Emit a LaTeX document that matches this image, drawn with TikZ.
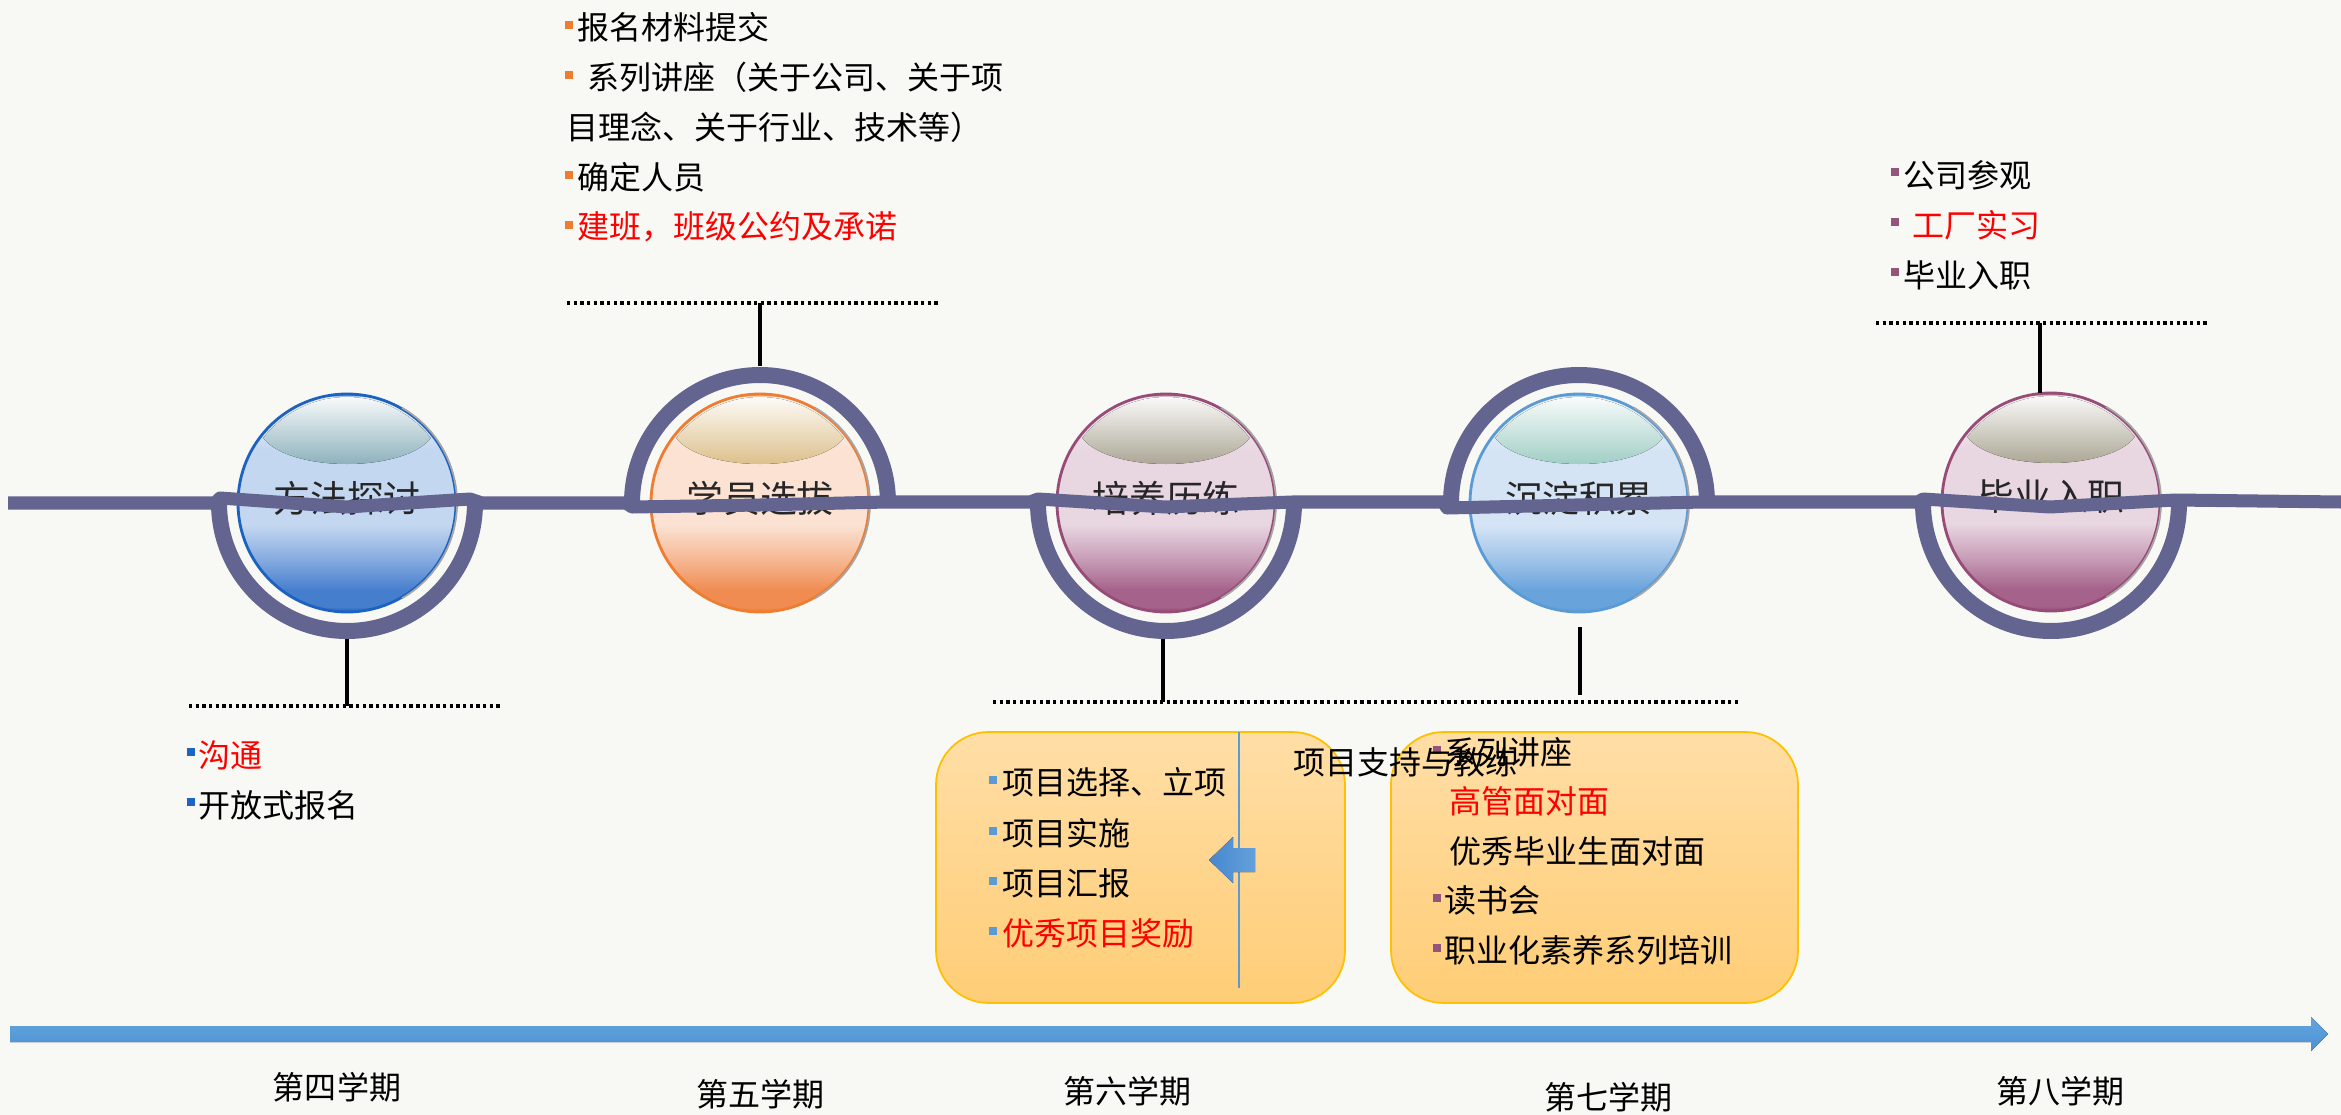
\documentclass[tikz,border=0pt]{standalone}
\usepackage{fontspec}
\setmainfont{Noto Sans CJK SC}
\definecolor{bgc}{RGB}{248,248,244}
\definecolor{tl}{RGB}{100,100,145}
\definecolor{orng}{RGB}{237,125,49}
\definecolor{bblue}{RGB}{30,100,200}
\definecolor{lblue}{RGB}{91,155,213}
\definecolor{purp}{RGB}{147,85,124}
\definecolor{redt}{RGB}{255,0,0}
\definecolor{boxtop}{RGB}{255,222,166}
\definecolor{boxbot}{RGB}{255,205,118}
\definecolor{boxrim}{RGB}{255,192,0}
% ball themes
\definecolor{RA}{RGB}{28,98,192}\definecolor{BA}{RGB}{70,126,206}\definecolor{LA}{RGB}{196,215,240}\definecolor{HA}{RGB}{142,178,189}
\definecolor{RB}{RGB}{238,125,49}\definecolor{BB}{RGB}{240,140,82}\definecolor{LB}{RGB}{251,226,211}\definecolor{HB}{RGB}{221,192,140}
\definecolor{RC}{RGB}{151,75,119}\definecolor{BC}{RGB}{165,98,138}\definecolor{LC}{RGB}{232,214,225}\definecolor{HC}{RGB}{172,167,150}
\definecolor{RD}{RGB}{90,155,214}\definecolor{BD}{RGB}{105,163,220}\definecolor{LD}{RGB}{213,228,245}\definecolor{HD}{RGB}{161,206,197}
\colorlet{MA}{BA!50!LA}\colorlet{TA}{LA!40!white}
\colorlet{MB}{BB!50!LB}\colorlet{TB}{LB!40!white}
\colorlet{MC}{BC!50!LC}\colorlet{TC}{LC!40!white}
\colorlet{MD}{BD!50!LD}\colorlet{TD}{LD!40!white}
\newcommand{\mkballshading}[1]{%
  \pgfdeclareverticalshading{ball#1}{100bp}{color(0bp)=(R#1); color(25bp)=(R#1); color(26.2bp)=(B#1); color(30bp)=(B#1); color(37bp)=(M#1); color(45bp)=(L#1); color(62bp)=(L#1); color(72bp)=(T#1); color(74.3bp)=(T#1); color(75bp)=(R#1); color(100bp)=(R#1)}}
\mkballshading{A}\mkballshading{B}\mkballshading{C}\mkballshading{D}
\newcommand{\myball}[5]{% name, x, y, theme, text
  \shade[shading=ball#4] (#2,#3) circle[radius=109];
  \begin{scope}
    \clip (#2,#3) circle[radius=106];
    \fill[top color=white, bottom color=H#4] (#2,#3-75) ellipse[x radius=87, y radius=36];
  \end{scope}
  \draw[draw=R#4, line width=0.8pt] (#2,#3) circle[radius=109];
  \draw[black!35, line width=0.5pt] (#2,#3) ++(-60:110) arc[start angle=-60, end angle=60, radius=110];
  \node[balltext] (#1) at (#2,#3-5) {#5};
}
\begin{document}
\begin{tikzpicture}[x=0.01cm,y=-0.01cm,
  balltext/.style={inner sep=0pt, font=\fontsize{10.5}{12}\selectfont, text=black!85},
  txt/.style={anchor=west, inner sep=0pt, font=\fontsize{9.1}{11}\selectfont},
  ctxt/.style={inner sep=0pt, font=\fontsize{9.1}{11}\selectfont},
  bul/.style={fill=#1, rectangle, minimum size=2.3pt, inner sep=0pt},
  ringarc/.style={draw=tl, line width=4.55pt},
  tline/.style={draw=tl, line width=3.7pt, line join=round},
  conn/.style={draw=black, line width=1.05pt},
  dotline/.style={draw=black, line width=1.15pt, dash pattern=on 0.95pt off 0.95pt},
  roundbox/.style={draw=boxrim, line width=0.5pt, top color=boxtop, bottom color=boxbot, rounded corners=15pt}]
\useasboundingbox (0,0) rectangle (2341,1115);
\fill[bgc] (0,0) rectangle (2341,1115);

% balls
\myball{b1}{347}{503}{A}{方法探讨}
\myball{b2}{760}{503}{B}{学员选拔}
\myball{b3}{1166}{503}{C}{培养历练}
\myball{b4}{1579}{503}{D}{沉淀积累}
\myball{b5}{2051}{502}{C}{毕业入职}

% timeline
\draw[tline] (8,503) -- (215,503) -- (220,498) -- (347,507) -- (470,499) -- (482,503)
  -- (626,503) -- (632,507) -- (760,505) -- (887,502) -- (1030,502)
  -- (1038,499) -- (1165,507) -- (1292,502) -- (1443,502)
  -- (1447,508) -- (1703,502) -- (1918,502)
  -- (1923,499) -- (2050,507) -- (2175,500) -- (2341,502);

% rings
\draw[ringarc] (347+128,503) arc[start angle=0, end angle=180, radius=128];
\draw[ringarc] (760-128,503) arc[start angle=180, end angle=360, radius=128];
\draw[ringarc] (1166+128,503) arc[start angle=0, end angle=180, radius=128];
\draw[ringarc] (1579-128,503) arc[start angle=180, end angle=360, radius=128];
\draw[ringarc] (2051+128,503) arc[start angle=0, end angle=180, radius=128];

% connectors and dotted lines
\coordinate (c1a) at (347,639); \coordinate (c1b) at (347,706);
\coordinate (d1l) at (189,706); \coordinate (d1r) at (502,706);
\coordinate (c2a) at (760,366); \coordinate (c2b) at (760,303);
\coordinate (d2l) at (567,303); \coordinate (d2r) at (938,303);
\coordinate (c3a) at (1163,639); \coordinate (c3b) at (1163,702);
\coordinate (d3l) at (993,702); \coordinate (d3r) at (1738,702);
\coordinate (c4a) at (1580,627); \coordinate (c4b) at (1580,695);
\coordinate (c5a) at (2040,393); \coordinate (c5b) at (2040,323);
\coordinate (d5l) at (1876,323); \coordinate (d5r) at (2207,323);
\draw[conn] (c1a) -- (c1b); \draw[conn] (c2a) -- (c2b); \draw[conn] (c3a) -- (c3b);
\draw[conn] (c4a) -- (c4b); \draw[conn] (c5a) -- (c5b);
\draw[dotline] (d1l) -- (d1r); \draw[dotline] (d2l) -- (d2r);
\draw[dotline] (d3l) -- (d3r); \draw[dotline] (d5l) -- (d5r);

% top text block
\node[bul=orng] (ub1) at (569,25) {};
\node[txt] (ut1) at (577,27) {报名材料提交};
\node[bul=orng] (ub2) at (569,75) {};
\node[txt] (ut2) at (587,77) {系列讲座（关于公司、关于项};
\node[txt] (ut3) at (566,127) {目理念、关于行业、技术等）};
\node[bul=orng] (ub4) at (569,175) {};
\node[txt] (ut4) at (577,177) {确定人员};
\node[bul=orng] (ub5) at (569,225) {};
\node[txt, text=redt] (ut5) at (577,227) {建班，班级公约及承诺};

% bottom-left text
\node[bul=bblue] (lb1) at (191,752) {};
\node[txt, text=redt] (lt1) at (198,755) {沟通};
\node[bul=bblue] (lb2) at (191,802) {};
\node[txt] (lt2) at (198,805) {开放式报名};

% top-right text
\node[bul=purp] (rb1) at (1895,172) {};
\node[txt] (rt1) at (1903,175) {公司参观};
\node[bul=purp] (rb2) at (1895,222) {};
\node[txt, text=redt] (rt2) at (1912,225) {工厂实习};
\node[bul=purp] (rb3) at (1895,272) {};
\node[txt] (rt3) at (1903,275) {毕业入职};

% boxes
\path[roundbox] (936,732) rectangle (1345,1003);
\path[roundbox] (1391,732) rectangle (1798,1003);
\coordinate (vl1) at (1239,732); \coordinate (vl2) at (1239,988);
\draw[lblue, line width=0.6pt] (vl1) -- (vl2);
\fill[left color={rgb,255:red,70;green,135;blue,205}, right color={rgb,255:red,100;green,160;blue,220}]
  (1209,860) -- (1233,837) -- (1233,848) -- (1255,848) -- (1255,872) -- (1233,872) -- (1233,883) -- cycle;

\node[bul=lblue] (mb1) at (993,780) {};
\node[txt] (mt1) at (1002,782) {项目选择、立项};
\node[bul=lblue] (mb2) at (993,831) {};
\node[txt] (mt2) at (1002,833) {项目实施};
\node[bul=lblue] (mb3) at (993,881) {};
\node[txt] (mt3) at (1002,883) {项目汇报};
\node[bul=lblue] (mb4) at (993,931) {};
\node[txt, text=redt] (mt4) at (1002,933) {优秀项目奖励};

\node[bul=purp] (nb1) at (1437,750) {};
\node[txt] (nt1) at (1444,752) {系列讲座};
\node[txt, text=redt] (nt2) at (1449,801) {高管面对面};
\node[txt] (nt3) at (1449,851) {优秀毕业生面对面};
\node[bul=purp] (nb4) at (1437,898) {};
\node[txt] (nt4) at (1444,900) {读书会};
\node[bul=purp] (nb5) at (1437,948) {};
\node[txt] (nt5) at (1444,950) {职业化素养系列培训};
\node[ctxt] (sup) at (1405,762) {项目支持与教练};

% bottom arrow
\fill[top color={rgb,255:red,100;green,165;blue,224}, bottom color={rgb,255:red,76;green,145;blue,210}]
  (10,1026) -- (2311,1026) -- (2311,1017) -- (2328,1034) -- (2311,1051) -- (2311,1042) -- (10,1042) -- cycle;

% semester labels
\node[ctxt] (s4) at (337,1087) {第四学期};
\node[ctxt] (s5) at (760,1094) {第五学期};
\node[ctxt] (s6) at (1127,1091) {第六学期};
\node[ctxt] (s7) at (1608,1097) {第七学期};
\node[ctxt] (s8) at (2060,1091) {第八学期};
\end{tikzpicture}
\end{document}
